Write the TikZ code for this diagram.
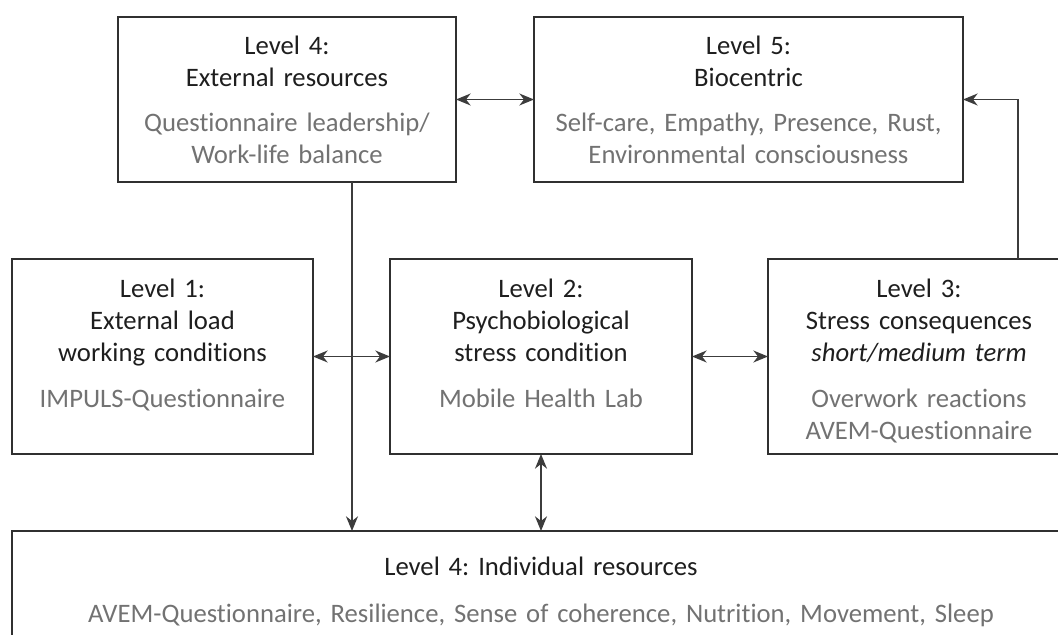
\documentclass[tikz,border=0pt]{standalone}
\usepackage{fontspec}
\setmainfont{Carlito}[Ligatures={NoCommon}]
\usetikzlibrary{arrows.meta}
\definecolor{txt}{HTML}{1E1E1E}
\definecolor{sub}{HTML}{727272}
\definecolor{edge}{HTML}{303030}
\definecolor{conn}{HTML}{3C3C3C}
\frenchspacing
\begin{document}
\begin{tikzpicture}[x=0.75pt,y=-0.75pt,
  box/.style={draw=edge,line width=1.1pt,inner sep=0pt,outer sep=0pt,rectangle},
  ttl/.style={anchor=base,text width=330pt,align=center,inner sep=0pt,font=\fontsize{20}{24}\selectfont,text=txt},
  sub/.style={ttl,text=sub},
  arr/.style={draw=conn,line width=1.1pt,-{Stealth[length=11pt,width=9pt,inset=3.5pt]}},
  biarr/.style={draw=conn,line width=1.1pt,{Stealth[length=11pt,width=9pt,inset=3.5pt]}-{Stealth[length=11pt,width=9pt,inset=3.5pt]}}
]
\useasboundingbox (0,0) rectangle (1058,635);
\clip (0,0) rectangle (1058,635);
% boxes
\node[box,minimum width=253.5pt,minimum height=123.75pt] (l4e) at (287,99.5) {};
\node[box,minimum width=321.75pt,minimum height=123.75pt] (l5) at (748.5,99.5) {};
\node[box,minimum width=225.75pt,minimum height=146.25pt] (l1) at (162.5,356.5) {};
\node[box,minimum width=226.5pt,minimum height=146.25pt] (l2) at (541,356.5) {};
\node[box,minimum width=226.5pt,minimum height=146.25pt] (l3) at (919,356.5) {};
\node[box,minimum width=793.5pt,minimum height=141.75pt] (bot) at (541,625.5) {};
% texts
\node[ttl] (l4et) at (287,55) {Level 4:\\External resources};
\node[sub] (l4es) at (287,132) {Questionnaire leadership/\\Work-life balance};
\node[ttl] (l5t) at (748.5,55) {Level 5:\\Biocentric};
\node[sub] (l5s) at (748.5,132) {Self-care, Empathy, Presence, Rust,\\Environmental consciousness};
\node[ttl] (l1t) at (162.5,297) {Level 1:\\External load\\working conditions};
\node[sub] (l1s) at (162.5,407) {IMPULS-Questionnaire};
\node[ttl] (l2t) at (541,297) {Level 2:\\Psychobiological\\stress condition};
\node[sub] (l2s) at (541,407) {Mobile Health Lab};
\node[ttl] (l3t) at (919,297) {Level 3:\\Stress consequences\\\textit{short/medium term}};
\node[sub] (l3s) at (919,407) {Overwork reactions\\AVEM-Questionnaire};
\node[ttl,text width=780pt] (bott) at (541,575) {Level 4: Individual resources};
\node[sub,text width=780pt] (bots) at (541,622) {AVEM-Questionnaire, Resilience, Sense of coherence, Nutrition, Movement, Sleep};
% connectors
\draw[biarr] (l4e.east) -- (l5.west);
\draw[biarr] (l1.east) -- (l2.west);
\draw[biarr] (l2.east) -- (l3.west);
\coordinate (p3) at ([xshift=187.5pt]l3.north west);
\draw[arr] (p3) |- (l5.east);
\coordinate (p4) at ([xshift=175.5pt]l4e.south west);
\draw[arr] (p4) -- (p4 |- bot.north);
\draw[biarr] (l2.south) -- (l2.south |- bot.north);
\end{tikzpicture}
\end{document}
